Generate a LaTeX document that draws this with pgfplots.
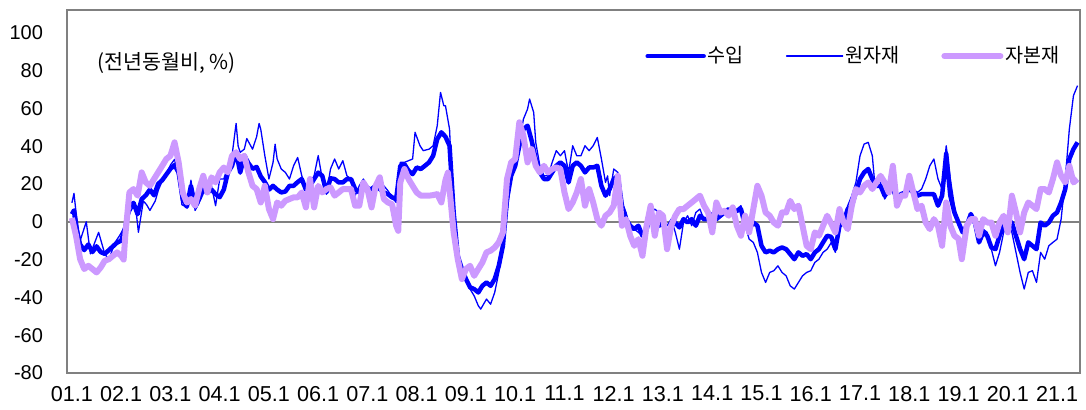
\documentclass[border=0pt]{standalone}
\usepackage{fontspec}
\setmainfont{Liberation Sans}
\newfontfamily\kr{Noto Sans CJK KR}
\usepackage{pgfplots}
\pgfplotsset{compat=1.18}
\definecolor{sb}{RGB}{0,0,255}
\definecolor{lav}{RGB}{204,153,255}
\definecolor{axg}{RGB}{128,128,128}
\begin{document}
\begin{tikzpicture}
\begin{axis}[
 scale only axis, width=506.5pt, height=181.5pt,
 xmin=-1.2, xmax=245.6, ymin=-80, ymax=112,
 xtick={0,12,...,240},
 xticklabels={01.1,02.1,03.1,04.1,05.1,06.1,07.1,08.1,09.1,10.1,11.1,12.1,13.1,14.1,15.1,16.1,17.1,18.1,19.1,20.1,21.1},
 ytick={-80,-60,...,100},
 major tick length=0pt,
 axis line style={axg, line width=0.75pt},
 /pgf/number format/assume math mode=true,
 yticklabel style={font=\fontsize{10}{12}\selectfont, xshift=-8.5pt},
 xticklabel style={font=\fontsize{10.8}{12}\selectfont, yshift=-3pt},
 legend columns=3,
 legend style={draw=none, fill=none, at={(rel axis cs:0.5706,0.873)}, anchor=west, inner sep=0pt,
   font=\kr\fontsize{9.8}{11}\selectfont, nodes={inner sep=1pt},
   /tikz/every even column/.append style={column sep=20pt}},
 legend image code/.code={\draw[#1, line cap=round] (0pt,0pt) -- (28pt,0pt);},
 every axis plot/.append style={line join=round},
]
\draw[axg, line width=0.75pt] (axis cs:-1.2,0) -- (axis cs:245.6,0);
\addplot[sb, line width=2.25pt] coordinates {
(0,4)(0.5,6)(1,-3)(2,-12)(3,-15)(4,-12)(5,-16)(6,-13)(7,-16)(8,-17)(9,-15)(10,-13)(11,-11)(12,-10)(13,-3)(14,8)(15,10)(16,4)(17,12)(18,14)(19,17)(20,14)(21,20)(22,22)(23,25)(24,28)(25,30)(26,26)(27,12)(28,8)(29,19)(30,8)(31,12)(32,17)(33,15.5)(34,17)(35,14.6)(36,13)(37,17)(38,26)(39,29.6)(40,37)(41,26)(42,35)(43,31)(44,28)(45,29)(46,24)(47,21)(48,17)(49,19)(50,17)(51,15.5)(52,16)(53,19)(54,19)(55,21)(56,22.6)(57,17)(58,19)(59,22.6)(60,26)(61,24.3)(62,15.5)(63,23)(64,22.6)(65,20.8)(66,20.8)(67,22.6)(68,22.6)(69,17.3)(70,15.5)(71,17.3)(72,17.3)(73,17.3)(74,19)(75,17.3)(76,15.5)(77,14.6)(78,12.9)(79,12)(80,29.6)(81,30.5)(82,27)(83,25.2)(84,28.7)(85,27.9)(86,29.6)(87,31.4)(88,34.9)(89,43.7)(90,47.3)(91,45)(92,40.2)(93,4.9)(94,-18)(95,-25)(96,-30.3)(97,-34.7)(98,-35.6)(99,-37.4)(100,-33.9)(101,-32.1)(102,-33.9)(103,-30.3)(104,-23.3)(105,-12.7)(106,12)(107,24.3)(108,29.6)(109,40.2)(110,49)(111,50.8)(112,42.9)(113,33.2)(114,26.1)(115,22.6)(116,22.6)(117,26.1)(118,29.6)(119,31.4)(120,29.6)(121,20.8)(122,29.6)(123,31.4)(124,29.6)(125,26.1)(126,28.7)(127,28.7)(128,29.6)(129,19)(130,13.8)(131,17.3)(132,22.6)(133,24.3)(134,8.5)(135,1.4)(136,-2.1)(137,-3.9)(138,-2.1)(139,-7.4)(140,-3.9)(141,3.2)(142,1.4)(143,-2.1)(144,-0.4)(145,-7.4)(146,-2.1)(147,-0.4)(148,-3)(149,1.4)(150,-0.4)(151,1.4)(152,-2.1)(153,3.2)(154,1.4)(155,1.4)(156,3.2)(157,1.4)(158,3.2)(159,4.9)(160,6.7)(161,4.9)(162,5.8)(163,6.7)(164,-2.1)(165,-3.9)(166,-0.4)(167,-2.1)(168,-12.7)(169,-16.2)(170,-15.3)(171,-16.2)(172,-14.5)(173,-13.6)(174,-14.5)(175,-17.1)(176,-19.8)(177,-16.2)(178,-18)(179,-17.1)(180,-19.8)(181,-16.2)(182,-14.5)(183,-10.9)(184,-7.4)(185,-8)(186,-14.5)(187,-2.1)(188,-0.4)(189,6.7)(190,8.5)(191,15.5)(192,22.6)(193,26.1)(194,27.9)(195,22.6)(196,19)(197,19)(198,13.8)(199,17.3)(200,17.3)(201,12)(202,14.6)(203,15.5)(204,17.3)(205,15.5)(206,13.8)(207,14.6)(208,14.6)(209,14.6)(210,14.6)(211,8.5)(212,13.8)(213,36)(214,13.8)(215,4.9)(216,-0.4)(217,-5.6)(218,-2.1)(219,4.1)(220,-0.4)(221,-10.9)(222,-5.6)(223,-7.4)(224,-13.6)(225,-14.5)(226,-7.4)(227,-2.1)(228,-2.1)(229,-0.4)(230,-7.4)(231,-14.5)(232,-19.8)(233,-10.9)(234,-12.7)(235,-14.5)(236,-0.4)(237,-2.1)(238,-0.4)(239,3.2)(240,4.9)(241,10.2)(242,17.3)(243,33.2)(244,38.4)(245,42)
};
\addlegendentry{수입}
\addplot[sb, line width=0.65pt] coordinates {
(0,10)(0.5,15)(1,5)(2,-10)(3.5,0)(4.5,-17)(6.5,-5.6)(8,-17)(9,-20)(10.5,-11)(11.7,-7)(13,-2)(14.2,5)(15.4,10)(16.2,-5.6)(16.6,0)(17.4,11)(18.2,9)(19,6)(20.3,11)(21.1,17)(21.9,21)(22.7,24)(24,30)(25,33)(26,22)(26.8,9)(28,7.6)(29,22)(30,6)(31,10)(32,21)(33,15.5)(34,19)(35,8.5)(36,22.6)(37,22.6)(38,29.6)(39,34.9)(40,52)(40.5,40)(41,36.7)(42,38.4)(42.6,44)(44,38.4)(45,45)(45.6,52)(46,49)(47,34.9)(48,22.6)(49,31.4)(49.5,41)(50,33.2)(51,27.9)(52,26.1)(53,22.6)(54,29.6)(55,34)(56,24.3)(57,17.3)(58,19)(59,24.3)(60,35)(61,22.6)(62,14.6)(63,27.9)(64,33.2)(65,27.9)(66,32.3)(67,24.3)(68,22.6)(69,13.8)(70,19)(71,22.6)(72,19)(73,17.3)(74,20.8)(75,17.3)(76,19)(77,16.4)(78,12.9)(79,10.2)(80,31.4)(81,31.4)(82,32.3)(83,33.2)(83.6,47.3)(84.8,40.2)(85.6,37.6)(87,38.4)(88,40.2)(89,50.8)(89.8,68.4)(90.6,61.4)(91,61.4)(92,49)(93,1.4)(94,-19.8)(95,-27)(96,-30.3)(97,-35.6)(98,-39.2)(99,-44.4)(99.6,-46.2)(101,-40.9)(102,-43.6)(103,-37.4)(104,-26.8)(105,-14.5)(106,4.9)(107,22.6)(108,29.6)(109,42)(110,54.3)(111,59.6)(111.5,64.9)(112.5,57.8)(113,42)(114,29.6)(115,24.3)(116,24.3)(117,31.4)(118,37.6)(119,34.9)(120,37.6)(121,26.1)(122,40.2)(123,34.9)(124,34.9)(125,40.2)(126,37.6)(127,40.2)(128,44.6)(129,33.2)(130,20.8)(130.5,24.3)(131,13.8)(132,27.9)(133,26.1)(134,10.2)(135,4.9)(136,-3.9)(137,-3.9)(138,-5.6)(139,-7.4)(140,1.4)(141,4.9)(142,6.7)(143,4.9)(144,1.4)(145,-2.1)(146,1.4)(147,-5.6)(148,-14.5)(149,-0.4)(150,3.2)(151,-2.1)(152,4.9)(153,6.7)(154,1)(155,3.2)(156,4.9)(157,3.2)(158,4.1)(159,4.9)(160,5.8)(161,4.9)(162,6.7)(163,8.5)(164,-2.1)(165,-9.2)(166,-10.9)(167,-16.2)(168,-26.8)(169,-32.1)(170,-26.8)(171,-25.9)(172,-23.3)(173,-26.8)(174,-28.6)(175,-33.9)(176,-35.6)(177,-32.1)(178,-28.6)(179,-26.8)(180,-25.9)(181,-21.5)(182,-19.8)(183,-16.2)(184,-14.5)(185,-11)(186,-16.2)(187,-0.4)(188,1.4)(189,8.5)(190,13.8)(191,20.8)(192,34.9)(193,41.1)(194,42)(195,34.9)(195.5,22.6)(196,22.6)(197,20.8)(198,12)(199,15.5)(200,17.3)(201,13.8)(202,14.6)(203,15.5)(204,17.3)(205,17.3)(206,15.5)(207,17.3)(208,22.6)(209,29.6)(210,33.2)(211,22.6)(212,17.3)(213,40.2)(214,22.6)(215,8.5)(216,-2.1)(217,-5.6)(218,-2.1)(219,1.4)(220,-2.1)(221,-9.2)(222,-3.9)(223,-5.6)(224,-14.5)(225,-23.3)(226,-16.2)(227,-5.6)(228,-0.4)(229,-5.6)(230,-16.2)(231,-26.8)(232,-35.6)(233,-26.8)(234,-25.9)(235,-32.1)(236,-16.2)(237,-19.8)(238,-12.7)(239,-10.9)(240,-9.2)(241,1.4)(242,22.6)(243,49)(244,66.7)(245,72)
};
\addlegendentry{원자재}
\addplot[lav, line width=3pt] coordinates {
(0,2)(1,-7.4)(2,-19.8)(3,-25)(4,-23.3)(5,-25)(6,-26.8)(7,-24.2)(8,-20.6)(9,-19.8)(10,-18)(11,-16.2)(12,-18)(12.6,-20)(13,-7.4)(14,15.5)(15,17.3)(16,13.8)(17,26.1)(18,20.8)(19,19)(20,22.6)(21,26.1)(22,29.6)(23,33.2)(24,34.9)(25,42)(26,31.4)(27,15.5)(28,10.2)(29,12)(30,8.5)(31,17.3)(32,24.3)(33,15.5)(34,23.5)(35,20.8)(36,26.1)(37,28.7)(38,26.1)(39,34.9)(40,36.7)(41,33.2)(42,34.9)(43,26.1)(44,19)(45,17.3)(46,10.2)(47,19)(48,6.7)(49,1.4)(50,10.2)(51,8.5)(52,11.1)(53,12)(54,12.9)(55,12.9)(56,15.5)(57,7.6)(58,22.6)(59,7.6)(60,19)(61,15.5)(62,17.3)(63,18.2)(64,13.8)(65,15.5)(66,17.3)(67,17.3)(68,17.3)(69,8.5)(70,8.5)(71,20.8)(72,17.3)(73,7.6)(74,19)(75,23.5)(76,12)(77,10.2)(78,9.3)(79,-2.1)(79.5,-4.8)(80,20.8)(81,27.9)(82,22.6)(83,19)(84,15.5)(85,13.8)(86,13.8)(87,13.8)(88,14.1)(89,14.6)(90,10.2)(91,22)(91.6,26)(92,17.3)(93,-5.6)(94,-19.8)(95,-30.3)(96,-25)(97,-23.3)(98,-28.6)(99,-25)(100,-21.5)(101,-16.2)(102,-15.3)(103,-13.6)(104,-10.9)(105,-5.6)(106,22.6)(107,31.4)(108,33.2)(109,52.6)(110,45.5)(111,31.4)(112,38.4)(113,29.6)(114,26.1)(115,29.6)(116,26.1)(117,27.9)(118,28.7)(119,27.9)(120,15.5)(121,6.7)(122,10.2)(123,15.5)(124,22.6)(125,8.5)(126,17.3)(127,10.2)(128,1.4)(129,-2.1)(130,3.2)(131,4.9)(132,8.5)(133,24.3)(134,-2.1)(135,1.4)(136,-7.4)(137,-12.7)(138,-9.2)(139,-18)(140,-2.1)(141,8.5)(142,-7.4)(143,4.9)(144,3.2)(145,-14.5)(146,-2.1)(147,3.2)(148,6.7)(149,6.7)(150,8.5)(151,10.2)(152,12)(153,13.8)(154,8.5)(155,4.9)(156,-5.6)(157,10.2)(158,4.9)(159,5.8)(160,3.2)(161,7.6)(162,-2.1)(163,-7.4)(164,3.2)(165,-5.6)(166,6.7)(167,19)(168,13.8)(169,4.9)(170,3.2)(171,-0.4)(172,-2.1)(173,4.9)(174,4.9)(175,11.1)(176,6.7)(177,8.5)(178,-2.1)(179,-12.7)(180,-14.5)(181,-5.6)(182,-7.4)(183,-2.1)(184,3.2)(185,-1)(186,-5.6)(187,6.7)(188,-0.4)(189,-3.9)(190,8.5)(191,17.3)(192,15.5)(193,19)(194,20.8)(195,17.3)(196,20.8)(197,24.3)(198,20.8)(199,15.5)(200,29.6)(201,8.5)(202,13.8)(203,13.8)(204,24.3)(205,15.5)(206,6.7)(207,8.5)(208,-0.4)(209,-3.9)(210,1.4)(211,-2.1)(212,-12.7)(213,10.2)(214,-2.1)(215,-7.4)(216,-9)(216.8,-19.8)(218,-2.1)(219,1.4)(220,1.4)(221,-7.4)(222,1.4)(223,-0.4)(224,-0.4)(225,-7.4)(226,-0.4)(227,3.2)(228,-5.6)(229,13.8)(230,4.9)(231,-5.6)(232,4.9)(233,10.2)(234,8.5)(235,6.7)(236,17.3)(237,17.3)(238,15.5)(239,22.6)(240,31.4)(241,24.3)(242,20.8)(243,29.6)(244,20.8)(245,22.6)
};
\addlegendentry{자본재}
\node[anchor=west, inner sep=0pt, font=\kr\fontsize{10.3}{12}\selectfont] at (rel axis cs:0.0296,0.855) {(전년동월비, \%)};
\coordinate (bl) at (rel axis cs:0,0);
\coordinate (tr) at (rel axis cs:1,1);
\end{axis}
\pgfresetboundingbox
\useasboundingbox ([shift={(-33.5pt,-18pt)}]bl) rectangle ([shift={(3pt,5pt)}]tr);
\end{tikzpicture}
\end{document}
